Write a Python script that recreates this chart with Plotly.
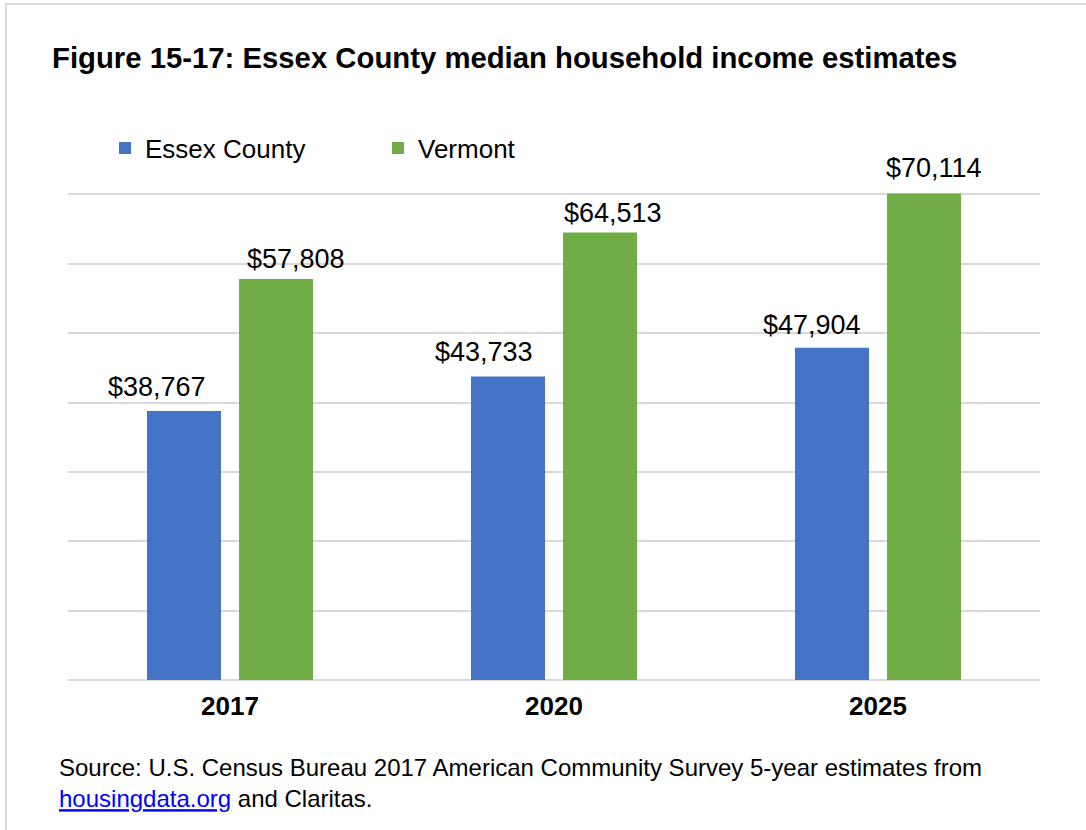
import plotly.graph_objects as go

# Median household income estimates
years = ["2017", "2020", "2025"]
essex_income = [38767, 43733, 47904]
vermont_income = [57808, 64513, 70114]
series_names = ["Essex County", "Vermont"]
series_colors = ["#4472C4", "#70AD47"]

W, H = 1086, 830
ML, MR, MT, MB = 68, 46, 125, 150
FONT = "Liberation Sans, Arial, sans-serif"

fig = go.Figure()
for name, vals, col in zip(series_names, [essex_income, vermont_income], series_colors):
    fig.add_trace(go.Bar(
        x=years, y=vals, name=name, marker=dict(color=col, line=dict(width=0)),
    ))

# value labels above each bar (x given as category index); hand-placed nudges
label_dx = [[-73.5, -70.3, -66.0], [66.0, 58.5, 56.0]]
label_dy = [[7.5, 7.8, 5.2], [2.5, 2.9, 8.5]]
for vals, dxs, dys in zip([essex_income, vermont_income], label_dx, label_dy):
    for i, v in enumerate(vals):
        fig.add_annotation(
            x=i, y=v, xref="x", yref="y", text=f"${v:,}", showarrow=False,
            xshift=dxs[i], yanchor="bottom", yshift=dys[i],
            font=dict(family=FONT, size=27, color="#000000"),
        )

pw = W - ML - MR
ph = H - MT - MB

def px_x(p):
    return (p - ML) / pw

def px_y(p):
    return (H - MB - p) / ph

# outer frame
fig.add_shape(type="rect", xref="paper", yref="paper",
              x0=px_x(6), x1=px_x(1100), y0=px_y(845), y1=px_y(4),
              line=dict(color="#d9d9d9", width=2), fillcolor="rgba(0,0,0,0)", layer="below")

# source note
fig.add_annotation(
    xref="paper", yref="paper", x=px_x(57), y=px_y(752), xanchor="left", yanchor="top",
    align="left", showarrow=False,
    text=("Source: U.S. Census Bureau 2017 American Community Survey 5-year estimates from<br>"
          "<span style='color:#0000FF;text-decoration:underline'>housingdata.org</span> and Claritas."),
    font=dict(family=FONT, size=24, color="#000000"),
)

fig.update_layout(
    width=W, height=H,
    margin=dict(l=ML, r=MR, t=MT, b=MB, autoexpand=False),
    paper_bgcolor="white", plot_bgcolor="white",
    barmode="group", bargap=0.432, bargroupgap=0.196,
    title=dict(
        text="<b>Figure 15-17: Essex County median household income estimates</b>",
        x=52 / W, xanchor="left", xref="container",
        y=1 - 58 / H, yanchor="middle", yref="container",
        font=dict(family=FONT, size=29.3, color="#000000"),
    ),
    showlegend=True,
    legend=dict(
        orientation="h", x=px_x(105), y=px_y(148), xanchor="left", yanchor="middle",
        font=dict(family=FONT, size=26, color="#000000"),
        entrywidth=228, entrywidthmode="pixels",
        bgcolor="rgba(0,0,0,0)", traceorder="normal",
    ),
    xaxis=dict(
        type="category", range=[-0.5, 2.5],
        showgrid=False, showline=False, zeroline=False, ticks="",
        ticklabelstandoff=8,
        tickfont=dict(family=FONT, size=26, color="#000000", weight="bold"),
    ),
    yaxis=dict(
        range=[0, 80000], dtick=10000, showticklabels=False, ticks="",
        showgrid=True, gridcolor="#d9d9d9", gridwidth=1.5,
        zeroline=True, zerolinecolor="#d9d9d9", zerolinewidth=1.5,
        showline=False,
    ),
)

fig.write_html("out.html")
